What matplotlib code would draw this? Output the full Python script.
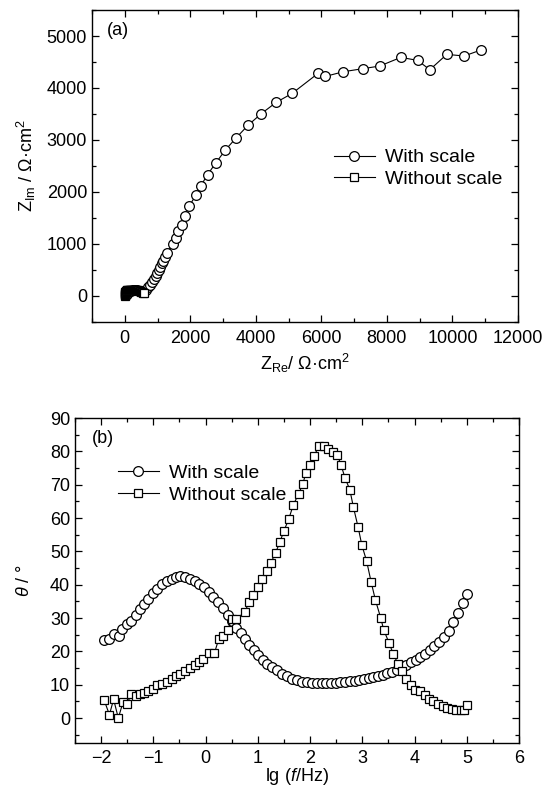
import matplotlib

matplotlib.use("Agg")
import matplotlib.pyplot as plt
from matplotlib.ticker import AutoMinorLocator, MultipleLocator

plt.rcParams["font.family"] = ["Liberation Sans", "DejaVu Sans"]
plt.rcParams["mathtext.fontset"] = "custom"
plt.rcParams["mathtext.rm"] = "Liberation Sans"
plt.rcParams["mathtext.it"] = "Liberation Sans:italic"

# (a) Nyquist, with scale (circles)
zre_with = [40, 60, 90, 130, 180, 240, 300, 360, 420, 480, 540, 600,
            651, 712, 784, 834, 885, 947, 998, 1047, 1090, 1130, 1170, 1221,
            1285, 1465, 1550, 1620, 1733, 1840, 1962, 2173, 2315, 2528, 2782,
            3066, 3401, 3756, 4162, 4619, 5107, 5898, 6122, 6670, 7259, 7777,
            8426, 8934, 9310, 9827, 10355, 10863]
zim_with = [20, 45, 70, 90, 105, 112, 115, 112, 105, 98, 95, 100,
            116, 168, 218, 270, 321, 385, 449, 500, 564, 629, 680, 745,
            834, 995, 1120, 1258, 1374, 1540, 1728, 1938, 2112, 2336, 2561,
            2805, 3042, 3280, 3504, 3723, 3896, 4281, 4223, 4313, 4371, 4422,
            4589, 4531, 4352, 4647, 4615, 4730]

# (a) Nyquist, without scale (squares)
zre_without = [0, 2, 5, 10, 15, 22, 30, 40, 52, 66, 82, 100, 120, 145, 170,
               200, 230, 260, 290, 320, 350, 380, 410, 440, 470, 500, 530,
               560, 590]
zim_without = [0, 15, 30, 45, 60, 72, 84, 94, 103, 110, 115, 119, 121, 122,
               122, 122, 122, 121, 120, 119, 117, 114, 110, 104, 96, 86, 74,
               60, 48]

# (b) Bode phase, with scale (circles)
lgf_with = [-1.94, -1.84, -1.76, -1.66, -1.60, -1.50, -1.42, -1.34, -1.26,
            -1.18, -1.10, -1.01, -0.92, -0.83, -0.74, -0.65, -0.56, -0.48,
            -0.39, -0.30, -0.21, -0.12, -0.03, 0.06, 0.15, 0.24, 0.33, 0.42,
            0.50, 0.59, 0.68, 0.75, 0.84, 0.93, 1.01, 1.09, 1.18, 1.27, 1.36,
            1.46, 1.56, 1.65, 1.75, 1.85, 1.94, 2.04, 2.13, 2.22, 2.31, 2.40,
            2.49, 2.58, 2.67, 2.76, 2.85, 2.94, 3.03, 3.12, 3.21, 3.30, 3.39,
            3.48, 3.57, 3.66, 3.75, 3.84, 3.93, 4.02, 4.11, 4.20, 4.29, 4.38,
            4.47, 4.56, 4.65, 4.74, 4.83, 4.92, 5.00]
theta_with = [23.4, 23.8, 25.1, 24.7, 26.6, 28.1, 29.2, 30.9, 32.6,
              34.3, 35.8, 37.4, 38.8, 40.2, 41.1, 41.8, 42.4, 42.6,
              42.4, 41.8, 41.2, 40.2, 39.2, 37.9, 36.4, 34.7, 32.9, 30.9,
              29.0, 27.1, 25.4, 23.6, 21.9, 20.4, 18.8, 17.5, 16.3, 15.3, 14.3,
              13.3, 12.5, 11.8, 11.3, 10.9, 10.7, 10.5, 10.4, 10.4, 10.4, 10.5,
              10.6, 10.7, 10.8, 11.0, 11.2, 11.4, 11.7, 12.0, 12.3, 12.6, 13.0,
              13.4, 13.9, 14.5, 15.2, 15.9, 16.7, 17.5, 18.3, 19.3, 20.3, 21.5,
              22.9, 24.4, 26.1, 28.8, 31.6, 34.4, 37.1]

# (b) Bode phase, without scale (squares)
lgf_without = [-1.94, -1.84, -1.76, -1.67, -1.58, -1.50, -1.42, -1.34, -1.26,
               -1.18, -1.10, -1.01, -0.92, -0.83, -0.74, -0.65, -0.56, -0.48,
               -0.39, -0.30, -0.21, -0.12, -0.05, 0.07, 0.17, 0.25, 0.34, 0.42,
               0.50, 0.59, 0.75, 0.84, 0.91, 1.00, 1.08, 1.17, 1.25, 1.34, 1.42,
               1.50, 1.59, 1.68, 1.78, 1.86, 1.92, 2.00, 2.08, 2.17, 2.27, 2.35,
               2.44, 2.52, 2.59, 2.67, 2.76, 2.83, 2.92, 2.99, 3.08, 3.17, 3.25,
               3.35, 3.41, 3.51, 3.59, 3.68, 3.76, 3.84, 3.93, 4.01, 4.10, 4.20,
               4.28, 4.36, 4.45, 4.54, 4.62, 4.71, 4.79, 4.89, 4.95, 5.00]
theta_without = [5.3, 1.0, 5.6, 0.0, 4.7, 4.3, 7.3, 6.5, 7.1,
                 7.5, 8.0, 8.8, 9.8, 10.3, 10.8, 11.6, 12.5, 13.3,
                 14.0, 15.1, 15.8, 16.8, 17.8, 19.5, 19.5, 23.6, 24.6, 26.4,
                 29.6, 29.6, 31.9, 34.9, 36.9, 39.2, 41.6, 44.2, 46.6, 49.6, 52.7,
                 56.2, 59.6, 64.0, 67.2, 70.2, 73.5, 76.0, 78.7, 81.7, 81.7, 80.8,
                 79.7, 79.0, 76.0, 72.0, 68.5, 63.2, 57.2, 51.9, 47.2, 40.7, 35.4,
                 30.1, 26.4, 22.6, 19.3, 16.3, 14.0, 11.8, 10.0, 8.5, 8.1, 7.0,
                 5.8, 5.0, 4.1, 3.5, 3.0, 2.8, 2.5, 2.3, 2.3, 3.8]

fig = plt.figure(figsize=(5.43, 7.88), dpi=100)
ax1 = fig.add_axes([0.1694, 0.5914, 0.7846, 0.3959])
ax2 = fig.add_axes([0.138, 0.0571, 0.818, 0.4124])

line_kw = dict(color="black", linewidth=0.8, markerfacecolor="white",
               markeredgecolor="black", markeredgewidth=0.9)

ax1.plot(zre_with, zim_with, marker="o", markersize=7, label="With scale", **line_kw)
ax1.plot(zre_without, zim_without, marker="s", markersize=6, label="Without scale", **line_kw)

ax2.plot(lgf_with, theta_with, marker="o", markersize=7, label="With scale", **line_kw)
ax2.plot(lgf_without, theta_without, marker="s", markersize=6, label="Without scale", **line_kw)

ax1.set_xlim(-1000, 12000)
ax1.set_ylim(-500, 5500)
ax1.xaxis.set_major_locator(MultipleLocator(2000))
ax1.yaxis.set_major_locator(MultipleLocator(1000))
ax1.set_xlabel(r"Z$_{\mathrm{Re}}$/ Ω·cm$^{2}$", fontsize=13, labelpad=3)
ax1.set_ylabel(r"Z$_{\mathrm{Im}}$ / Ω·cm$^{2}$", fontsize=13, labelpad=6)
ax1.text(0.035, 0.935, "(a)", transform=ax1.transAxes, fontsize=13, va="center")

ax2.set_xlim(-2.5, 6)
ax2.set_ylim(-7.5, 90)
ax2.xaxis.set_major_locator(MultipleLocator(1))
ax2.yaxis.set_major_locator(MultipleLocator(10))
ax2.set_xlabel(r"lg ($f$/Hz)", fontsize=13, labelpad=-1)
ax2.set_ylabel(r"$\theta$ / °", fontsize=13, labelpad=12)
ax2.text(0.038, 0.937, "(b)", transform=ax2.transAxes, fontsize=13, va="center")

for ax in (ax1, ax2):
    ax.xaxis.set_minor_locator(AutoMinorLocator(2))
    ax.yaxis.set_minor_locator(AutoMinorLocator(2))
    ax.tick_params(which="both", direction="in", top=True, right=True,
                   labelsize=13, width=0.9)
    ax.tick_params(which="major", length=5)
    ax.tick_params(which="minor", length=3)
    for sp in ax.spines.values():
        sp.set_linewidth(1.0)

ax1.tick_params(axis="x", which="major", pad=6)
ax2.tick_params(axis="x", which="major", pad=5)

ax1.legend(loc="upper left", bbox_to_anchor=(0.568, 0.555),
           frameon=False, fontsize=14, handlelength=2.1, handletextpad=0.5,
           borderpad=0, borderaxespad=0, labelspacing=0.2)
ax2.legend(loc="upper left", bbox_to_anchor=(0.097, 0.857),
           frameon=False, fontsize=14, handlelength=2.1, handletextpad=0.5,
           borderpad=0, borderaxespad=0, labelspacing=0.2)

fig.savefig("out.png", dpi=100)
